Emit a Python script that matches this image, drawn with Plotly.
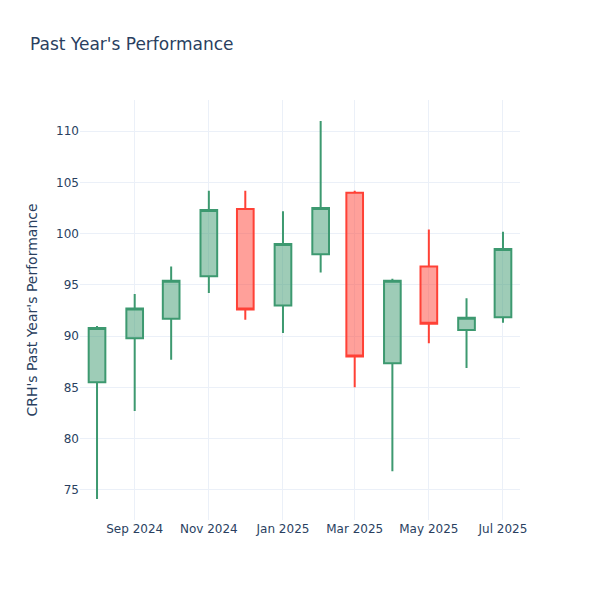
import plotly.graph_objects as go

dates = ["2024-08-01", "2024-09-01", "2024-10-01", "2024-11-01", "2024-12-01", "2025-01-01",
         "2025-02-01", "2025-03-01", "2025-04-01", "2025-05-01", "2025-06-01", "2025-07-01"]
open_ = [85.5, 89.8, 91.7, 95.85, 102.4, 93.0, 98.0, 104.0, 87.35, 96.8, 90.6, 91.85]
high = [91.0, 94.1, 96.8, 104.2, 104.2, 102.2, 111.0, 104.2, 95.6, 100.4, 93.7, 100.2]
low = [74.1, 82.7, 87.7, 94.2, 91.6, 90.3, 96.2, 85.0, 76.8, 89.3, 86.9, 91.3]
close = [90.8, 92.7, 95.4, 102.3, 92.6, 99.0, 102.5, 88.0, 95.4, 91.2, 91.8, 98.5]

fig = go.Figure(go.Candlestick(x=dates, open=open_, high=high, low=low, close=close))
fig.update_layout(
    template="plotly_white",
    font_family="DejaVu Sans",
    title="Past Year's Performance",
    yaxis_title="CRH's Past Year's Performance",
    xaxis_rangeslider_visible=False,
    width=600, height=600,
)
fig.write_html("out.html", config={"displayModeBar": False},
               post_script="document.body.style.margin='0';")
